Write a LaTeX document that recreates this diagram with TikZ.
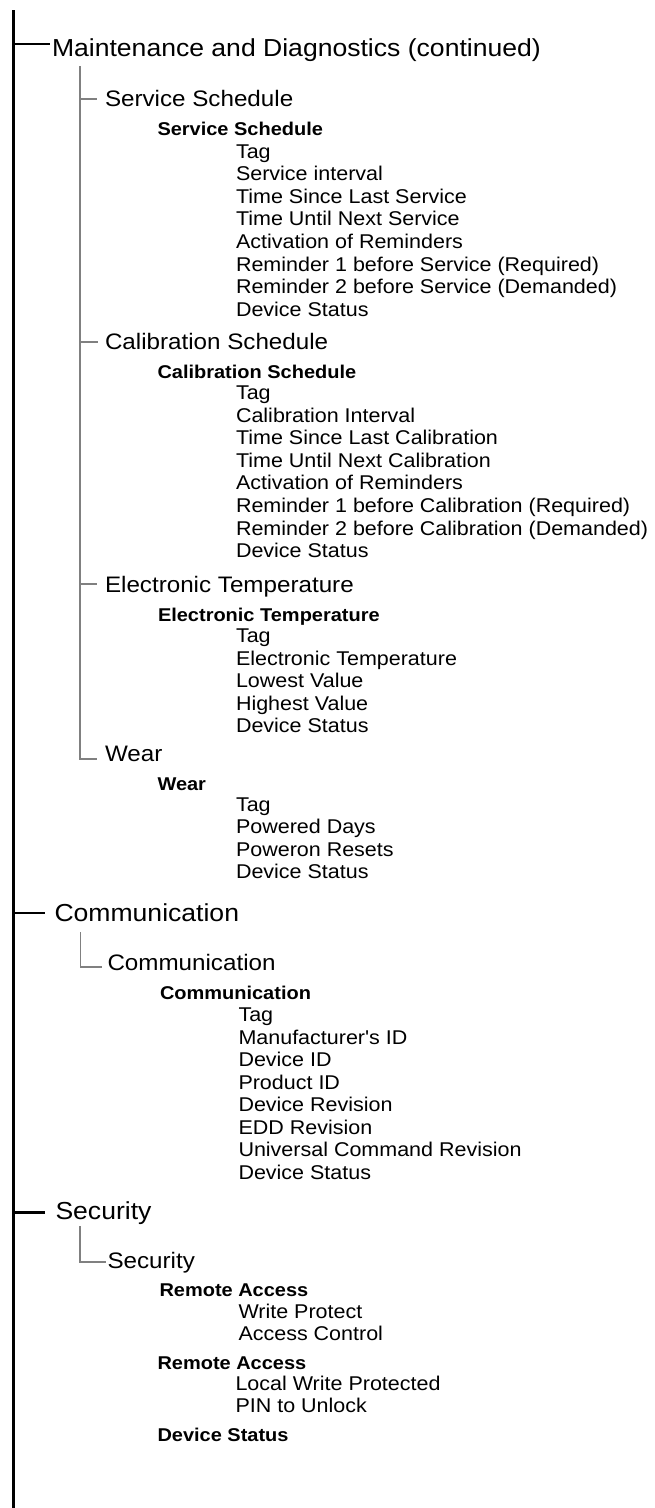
\documentclass[tikz,border=0pt]{standalone}
\usepackage{fontspec}
\newfontfamily\arialx[FakeStretch=1.08]{Liberation Sans}
\begin{document}
\begin{tikzpicture}[x=1pt,y=-1pt,
  txt/.style={anchor=base west,inner sep=0pt,outer sep=0pt,text=black},
  lvlA/.style={txt,font=\arialx\fontsize{24.6}{24.6}\selectfont},
  lvlB/.style={txt,font=\arialx\fontsize{22.4}{22.4}\selectfont},
  lvlC/.style={txt,font=\arialx\bfseries\fontsize{18.5}{18.5}\selectfont},
  item/.style={txt,font=\arialx\fontsize{19.9}{19.9}\selectfont},
  mainline/.style={line width=2.8pt,black},
  subline/.style={line width=1.4pt,black!50}]
\useasboundingbox (0,0) rectangle (655,1508);
\fill[white] (0,0) rectangle (655,1508);

% ---------- main spine ----------
\coordinate (top) at (13.5,10);
\coordinate (bot) at (13.5,1508);
\draw[mainline] (top) -- (bot);

% ---------- Maintenance and Diagnostics ----------
\node[lvlA] (maint) at (52,56) {Maintenance and Diagnostics (continued)};
\coordinate (bMaint) at (13.5,44);
\coordinate (eMaint) at (50,44);
\draw[mainline] (bMaint) -- (eMaint);

\coordinate (gTop) at (80,66);
\coordinate (gWear) at (80,759);
\draw[subline] (gTop) -- (gWear) -- (97,759) coordinate (eWear);

% Service Schedule
\node[lvlB] (svc) at (105,106) {Service Schedule};
\coordinate (bSvc) at (80,99);
\draw[subline] (bSvc) -- ([xshift=-8pt]bSvc -| svc.west);
\node[lvlC] (svcH) at (157.5,135) {Service Schedule};
\foreach \t [count=\i] in {Tag,Service interval,Time Since Last Service,Time Until Next Service,Activation of Reminders,Reminder 1 before Service (Required),Reminder 2 before Service (Demanded),Device Status}
  \node[item,name=svcI\i] at (236,{158+22.6*(\i-1)}) {\t};

% Calibration Schedule
\node[lvlB] (cal) at (105,349) {Calibration Schedule};
\coordinate (bCal) at (80,342);
\draw[subline] (bCal) -- ([xshift=-7pt]bCal -| cal.west);
\node[lvlC] (calH) at (157.5,378) {Calibration Schedule};
\foreach \t [count=\i] in {Tag,Calibration Interval,Time Since Last Calibration,Time Until Next Calibration,Activation of Reminders,Reminder 1 before Calibration (Required),Reminder 2 before Calibration (Demanded),Device Status}
  \node[item,name=calI\i] at (236,{399.5+22.6*(\i-1)}) {\t};

% Electronic Temperature
\node[lvlB] (elt) at (105,592.5) {Electronic Temperature};
\coordinate (bElt) at (80,584);
\draw[subline] (bElt) -- ([xshift=-8pt]bElt -| elt.west);
\node[lvlC] (eltH) at (158,621.5) {Electronic Temperature};
\foreach \t [count=\i] in {Tag,Electronic Temperature,Lowest Value,Highest Value,Device Status}
  \node[item,name=eltI\i] at (236,{642.7+22.5*(\i-1)}) {\t};

% Wear
\node[lvlB] (wear) at (105,761.5) {Wear};
\node[lvlC] (wearH) at (157.5,790) {Wear};
\foreach \t [count=\i] in {Tag,Powered Days,Poweron Resets,Device Status}
  \node[item,name=wearI\i] at (236,{811+22.5*(\i-1)}) {\t};

% ---------- Communication ----------
\node[lvlA] (comm) at (54.5,921.5) {Communication};
\coordinate (bComm) at (13.5,913);
\draw[mainline] (bComm) -- ([xshift=-10pt]bComm -| comm.west);
\node[lvlB] (comm2) at (107.5,970.5) {Communication};
\coordinate (gComm) at (80.5,932);
\draw[subline] (gComm) |- ([xshift=-6pt]comm2.west |- 0,967);
\node[lvlC] (commH) at (160,999.3) {Communication};
\foreach \t [count=\i] in {Tag,Manufacturer's ID,Device ID,Product ID,Device Revision,EDD Revision,Universal Command Revision,Device Status}
  \node[item,name=commI\i] at (238.5,{1021.5+22.5*(\i-1)}) {\t};

% ---------- Security ----------
\node[lvlA] (sec) at (55.5,1219.3) {Security};
\coordinate (bSec) at (13.5,1212.5);
\draw[mainline] (bSec) -- ([xshift=-11pt]bSec -| sec.west);
\node[lvlB] (sec2) at (107.5,1268.3) {Security};
\coordinate (gSec) at (80,1226);
\draw[subline] (gSec) |- ([xshift=-2pt]sec2.west |- 0,1262);
\node[lvlC] (ra1) at (159.5,1296.7) {Remote Access};
\node[item] (wp) at (238.5,1318.3) {Write Protect};
\node[item] (ac) at (238.5,1340.7) {Access Control};
\node[lvlC] (ra2) at (157.5,1369.3) {Remote Access};
\node[item] (lwp) at (235.5,1390.7) {Local Write Protected};
\node[item] (pin) at (235.5,1412.7) {PIN to Unlock};
\node[lvlC] (ds) at (157.5,1441.7) {Device Status};
\end{tikzpicture}
\end{document}
